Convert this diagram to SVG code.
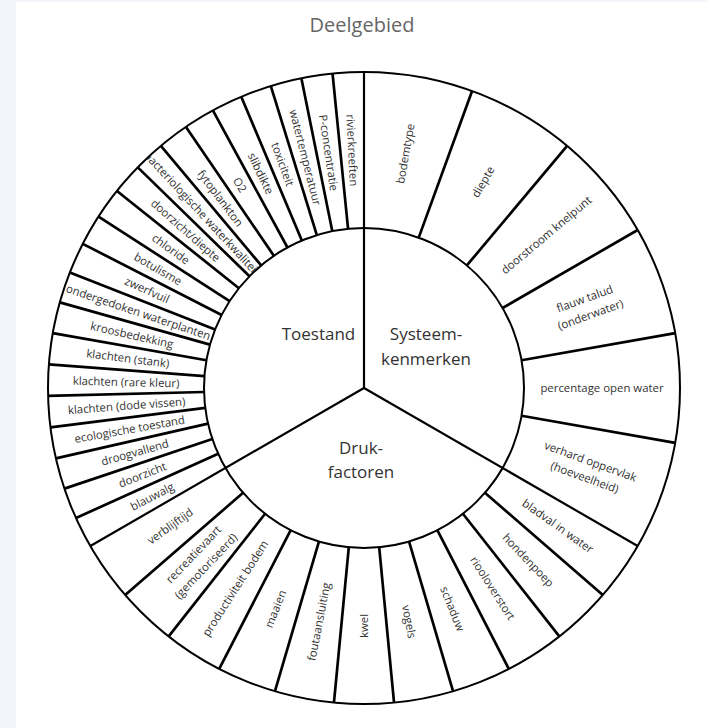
<svg xmlns="http://www.w3.org/2000/svg" width="708" height="728" viewBox="0 0 708 728">
<defs>
<style>
.title{font-family:"Open Sans","Noto Sans",sans-serif;font-size:20px;fill:#666;text-anchor:middle}
.core{font-family:"Open Sans","Noto Sans",sans-serif;font-size:17px;fill:#333;text-anchor:middle}
.lbl{font-family:"Open Sans","Noto Sans",sans-serif;font-size:11.4px;fill:#333;text-anchor:middle}
.arc{fill:none;stroke:#000;stroke-width:2}
.main{stroke:#000;stroke-width:2.2}
.rad{stroke:#000;stroke-width:2.7}
</style>
<clipPath id="ring"><path clip-rule="evenodd" d="M48,388A316,316 0 1 0 680,388A316,316 0 1 0 48,388ZM204,388A160,160 0 1 0 524,388A160,160 0 1 0 204,388Z"/></clipPath>
</defs>
<rect width="708" height="728" fill="#f2f5fa"/>
<rect x="16" y="2" width="692" height="726" fill="#fff"/>
<text class="title" x="362" y="32">Deelgebied</text>

<g id="connectors">
<circle class="arc" cx="364" cy="388" r="316"/>
<circle class="arc" cx="364" cy="388" r="160"/>
<line class="main" x1="364" y1="388" x2="364" y2="72"/>
<line class="main" x1="364" y1="388" x2="90.34" y2="546"/>
<line class="main" x1="364" y1="388" x2="637.66" y2="546"/>
<!-- Toestand -->
<line class="rad" x1="348.07" y1="228.8" x2="332.54" y2="73.57"/>
<line class="rad" x1="332.3" y1="231.17" x2="301.38" y2="78.27"/>
<line class="rad" x1="316.84" y1="235.11" x2="270.86" y2="86.04"/>
<line class="rad" x1="301.85" y1="240.56" x2="241.26" y2="96.81"/>
<line class="rad" x1="287.48" y1="247.48" x2="212.88" y2="110.47"/>
<line class="rad" x1="273.87" y1="255.8" x2="185.99" y2="126.91"/>
<line class="rad" x1="261.15" y1="265.43" x2="160.88" y2="145.93"/>
<line class="rad" x1="249.46" y1="276.28" x2="137.79" y2="167.36"/>
<line class="rad" x1="238.91" y1="288.24" x2="116.94" y2="190.98"/>
<line class="rad" x1="229.59" y1="301.21" x2="98.53" y2="216.59"/>
<line class="rad" x1="221.63" y1="315.01" x2="82.82" y2="243.84"/>
<line class="rad" x1="215.06" y1="329.55" x2="69.85" y2="272.55"/>
<line class="rad" x1="209.98" y1="344.67" x2="59.81" y2="302.41"/>
<line class="rad" x1="206.43" y1="360.22" x2="52.8" y2="333.13"/>
<line class="rad" x1="204.45" y1="376.04" x2="48.88" y2="364.39"/>
<line class="rad" x1="204.05" y1="391.99" x2="48.1" y2="395.88"/>
<line class="rad" x1="205.24" y1="407.89" x2="50.45" y2="427.29"/>
<line class="rad" x1="208.01" y1="423.6" x2="55.92" y2="458.32"/>
<line class="rad" x1="212.34" y1="438.96" x2="64.46" y2="488.64"/>
<line class="rad" x1="218.16" y1="453.82" x2="75.98" y2="518"/>
<!-- Systeemkenmerken -->
<line class="rad" x1="418.72" y1="237.65" x2="472.08" y2="91.06"/>
<line class="rad" x1="466.85" y1="265.43" x2="567.12" y2="145.93"/>
<line class="rad" x1="502.56" y1="308" x2="637.66" y2="230"/>
<line class="rad" x1="521.57" y1="360.22" x2="675.2" y2="333.13"/>
<line class="rad" x1="521.57" y1="415.78" x2="675.2" y2="442.87"/>
<!-- Drukfactoren -->
<line class="rad" x1="484.92" y1="492.78" x2="602.82" y2="594.94"/>
<line class="rad" x1="462.91" y1="513.77" x2="559.34" y2="636.39"/>
<line class="rad" x1="437.32" y1="530.21" x2="508.8" y2="668.87"/>
<line class="rad" x1="409.08" y1="541.52" x2="453.03" y2="691.2"/>
<line class="rad" x1="379.21" y1="547.28" x2="394.04" y2="702.57"/>
<line class="rad" x1="348.79" y1="547.28" x2="333.96" y2="702.57"/>
<line class="rad" x1="318.92" y1="541.52" x2="274.97" y2="691.2"/>
<line class="rad" x1="290.68" y1="530.21" x2="219.2" y2="668.87"/>
<line class="rad" x1="265.09" y1="513.77" x2="168.66" y2="636.39"/>
<line class="rad" x1="243.08" y1="492.78" x2="125.18" y2="594.94"/>
</g>

<g id="core-toestand"><text class="core" x="318.5" y="339.5">Toestand</text></g>
<g id="core-systeemkenmerken"><text class="core" x="426" y="340">Systeem-</text><text class="core" x="426" y="365">kenmerken</text></g>
<g id="core-drukfactoren"><text class="core" x="361" y="454">Druk-</text><text class="core" x="361" y="478">factoren</text></g>

<g clip-path="url(#ring)">
<g id="toestand">
<g id="t-rivierkreeften"><text class="lbl" x="126" y="392" transform="rotate(87.143 364 388)">rivierkreeften</text></g>
<g id="t-p-concentratie"><text class="lbl" x="126" y="392" transform="rotate(81.429 364 388)">P-concentratie</text></g>
<g id="t-watertemperatuur"><text class="lbl" x="126" y="392" transform="rotate(75.714 364 388)">watertemperatuur</text></g>
<g id="t-toxiciteit"><text class="lbl" x="126" y="392" transform="rotate(70 364 388)">toxiciteit</text></g>
<g id="t-slibdikte"><text class="lbl" x="126" y="392" transform="rotate(64.286 364 388)">slibdikte</text></g>
<g id="t-o2"><text class="lbl" x="126" y="392" transform="rotate(58.571 364 388)">O2</text></g>
<g id="t-fytoplankton"><text class="lbl" x="126" y="392" transform="rotate(52.857 364 388)">fytoplankton</text></g>
<g id="t-bacteriologisch"><text class="lbl" x="126" y="392" transform="rotate(47.143 364 388)">bacteriologische waterkwaliteit</text></g>
<g id="t-doorzicht-diepte"><text class="lbl" x="126" y="392" transform="rotate(41.429 364 388)">doorzicht/diepte</text></g>
<g id="t-chloride"><text class="lbl" x="126" y="392" transform="rotate(35.714 364 388)">chloride</text></g>
<g id="t-botulisme"><text class="lbl" x="126" y="392" transform="rotate(30 364 388)">botulisme</text></g>
<g id="t-zwerfvuil"><text class="lbl" x="126" y="392" transform="rotate(24.286 364 388)">zwerfvuil</text></g>
<g id="t-ondergedoken"><text class="lbl" x="126" y="392" transform="rotate(18.571 364 388)">ondergedoken waterplanten</text></g>
<g id="t-kroosbedekking"><text class="lbl" x="126" y="392" transform="rotate(12.857 364 388)">kroosbedekking</text></g>
<g id="t-klachten-stank"><text class="lbl" x="126" y="392" transform="rotate(7.143 364 388)">klachten (stank)</text></g>
<g id="t-klachten-kleur"><text class="lbl" x="126" y="392" transform="rotate(1.429 364 388)">klachten (rare kleur)</text></g>
<g id="t-klachten-vissen"><text class="lbl" x="126" y="392" transform="rotate(-4.286 364 388)">klachten (dode vissen)</text></g>
<g id="t-ecologisch"><text class="lbl" x="126" y="392" transform="rotate(-10 364 388)">ecologische toestand</text></g>
<g id="t-droogvallend"><text class="lbl" x="126" y="392" transform="rotate(-15.714 364 388)">droogvallend</text></g>
<g id="t-doorzicht"><text class="lbl" x="126" y="392" transform="rotate(-21.429 364 388)">doorzicht</text></g>
<g id="t-blauwalg"><text class="lbl" x="126" y="392" transform="rotate(-27.143 364 388)">blauwalg</text></g>
</g>
<g id="systeemkenmerken">
<g id="s-bodemtype"><text class="lbl" x="602" y="392" transform="rotate(-80 364 388)">bodemtype</text></g>
<g id="s-diepte"><text class="lbl" x="602" y="392" transform="rotate(-60 364 388)">diepte</text></g>
<g id="s-doorstroom"><text class="lbl" x="602" y="392" transform="rotate(-40 364 388)">doorstroom knelpunt</text></g>
<g id="s-flauw-talud"><text class="lbl" transform="rotate(-20 364 388)"><tspan x="602" y="383.5">flauw talud</tspan><tspan x="602" y="400.5">(onderwater)</tspan></text></g>
<g id="s-open-water"><text class="lbl" x="602" y="392">percentage open water</text></g>
<g id="s-verhard"><text class="lbl" transform="rotate(20 364 388)"><tspan x="602" y="383.5">verhard oppervlak</tspan><tspan x="602" y="400.5">(hoeveelheid)</tspan></text></g>
</g>
<g id="drukfactoren">
<g id="d-bladval"><text class="lbl" x="602" y="392" transform="rotate(35.455 364 388)">bladval in water</text></g>
<g id="d-hondenpoep"><text class="lbl" x="602" y="392" transform="rotate(46.364 364 388)">hondenpoep</text></g>
<g id="d-riooloverstort"><text class="lbl" x="602" y="392" transform="rotate(57.273 364 388)">riooloverstort</text></g>
<g id="d-schaduw"><text class="lbl" x="602" y="392" transform="rotate(68.182 364 388)">schaduw</text></g>
<g id="d-vogels"><text class="lbl" x="602" y="392" transform="rotate(79.091 364 388)">vogels</text></g>
<g id="d-kwel"><text class="lbl" x="126" y="392" transform="rotate(-90 364 388)">kwel</text></g>
<g id="d-foutaansluiting"><text class="lbl" x="126" y="392" transform="rotate(-79.091 364 388)">foutaansluiting</text></g>
<g id="d-maaien"><text class="lbl" x="126" y="392" transform="rotate(-68.182 364 388)">maaien</text></g>
<g id="d-productiviteit"><text class="lbl" x="126" y="392" transform="rotate(-57.273 364 388)">productiviteit bodem</text></g>
<g id="d-recreatievaart"><text class="lbl" transform="rotate(-46.364 364 388)"><tspan x="126" y="383.5">recreatievaart</tspan><tspan x="126" y="400.5">(gemotoriseerd)</tspan></text></g>
<g id="d-verblijftijd"><text class="lbl" x="126" y="392" transform="rotate(-35.455 364 388)">verblijftijd</text></g>
</g>
</g>
</svg>
